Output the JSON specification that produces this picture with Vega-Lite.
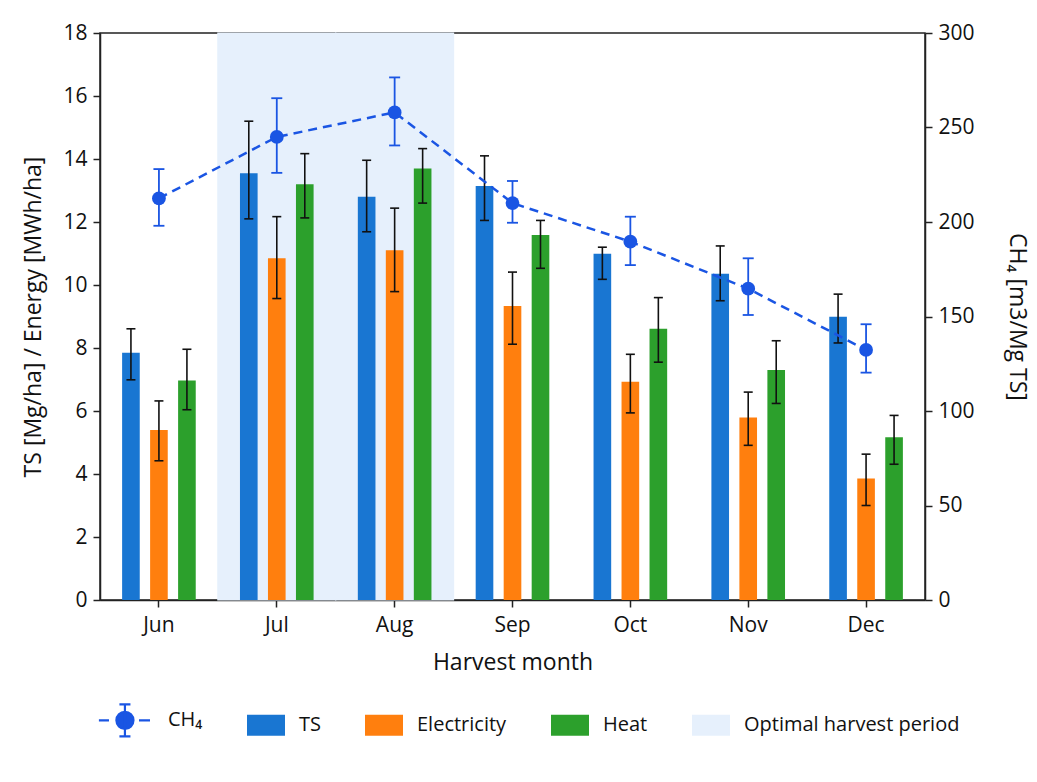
{
  "$schema": "https://vega.github.io/schema/vega-lite/v6.json",
  "width": 825,
  "height": 567,
  "autosize": {"type": "none"},
  "padding": {"left": 100, "top": 33, "right": 112, "bottom": 182},
  "background": "white",
  "config": {
    "font": "Open Sans",
    "view": {"stroke": "#222", "strokeWidth": 1.5},
    "axis": {
      "grid": false,
      "domainColor": "#222",
      "domainWidth": 1.5,
      "tickColor": "#222",
      "tickWidth": 1.5,
      "tickSize": 7,
      "labelFontSize": 21,
      "labelColor": "#111",
      "titleFontSize": 23,
      "titleFontWeight": "normal",
      "titleColor": "#111",
      "labelPadding": 6
    },
    "legend": {
      "orient": "none",
      "legendX": 25,
      "legendY": 677,
      "direction": "horizontal",
      "symbolSize": 1444,
      "labelFontSize": 20,
      "labelColor": "#111",
      "labelOffset": 23,
      "labelLimit": 0,
      "columnPadding": 44,
      "symbolOpacity": 1
    }
  },
  "datasets": {
    "bars": [
      {"month": "Jun", "series": "TS", "value": 7.85, "lo": 6.99, "hi": 8.61},
      {"month": "Jun", "series": "Electricity", "value": 5.4, "lo": 4.42, "hi": 6.32},
      {"month": "Jun", "series": "Heat", "value": 6.97, "lo": 6.04, "hi": 7.96},
      {"month": "Jul", "series": "TS", "value": 13.55, "lo": 12.1, "hi": 15.2},
      {"month": "Jul", "series": "Electricity", "value": 10.85, "lo": 9.57, "hi": 12.17},
      {"month": "Jul", "series": "Heat", "value": 13.2, "lo": 12.13, "hi": 14.17},
      {"month": "Aug", "series": "TS", "value": 12.8, "lo": 11.69, "hi": 13.96},
      {"month": "Aug", "series": "Electricity", "value": 11.1, "lo": 9.79, "hi": 12.44},
      {"month": "Aug", "series": "Heat", "value": 13.7, "lo": 12.6, "hi": 14.33},
      {"month": "Sep", "series": "TS", "value": 13.14, "lo": 12.05, "hi": 14.1},
      {"month": "Sep", "series": "Electricity", "value": 9.33, "lo": 8.12, "hi": 10.41},
      {"month": "Sep", "series": "Heat", "value": 11.59, "lo": 10.53, "hi": 12.05},
      {"month": "Oct", "series": "TS", "value": 10.99, "lo": 10.18, "hi": 11.2},
      {"month": "Oct", "series": "Electricity", "value": 6.93, "lo": 5.94, "hi": 7.8},
      {"month": "Oct", "series": "Heat", "value": 8.61, "lo": 7.55, "hi": 9.6},
      {"month": "Nov", "series": "TS", "value": 10.36, "lo": 9.5, "hi": 11.24},
      {"month": "Nov", "series": "Electricity", "value": 5.79, "lo": 4.91, "hi": 6.6},
      {"month": "Nov", "series": "Heat", "value": 7.3, "lo": 6.24, "hi": 8.23},
      {"month": "Dec", "series": "TS", "value": 8.99, "lo": 8.16, "hi": 9.71},
      {"month": "Dec", "series": "Electricity", "value": 3.86, "lo": 3.0, "hi": 4.63},
      {"month": "Dec", "series": "Heat", "value": 5.17, "lo": 4.31, "hi": 5.86}
    ],
    "ch4": [
      {"month": "Jun", "ch4": 212.5, "lo": 198, "hi": 228},
      {"month": "Jul", "ch4": 245, "lo": 226, "hi": 265.5},
      {"month": "Aug", "ch4": 258, "lo": 240.5, "hi": 276.5},
      {"month": "Sep", "ch4": 210, "lo": 199.6, "hi": 221.7},
      {"month": "Oct", "ch4": 189.6, "lo": 177.2, "hi": 202.8},
      {"month": "Nov", "ch4": 164.7, "lo": 150.8, "hi": 180.8},
      {"month": "Dec", "ch4": 132.3, "lo": 120.3, "hi": 145.9}
    ],
    "shade": [
      {"month": "Jul", "top": 18},
      {"month": "Aug", "top": 18}
    ]
  },
  "layer": [
    {
      "layer": [
        {
          "data": {"name": "shade"},
          "mark": {"type": "bar", "opacity": 1, "stroke": "#e6f0fc", "strokeWidth": 1.2},
          "encoding": {
            "x": {
              "field": "month", "type": "nominal",
              "scale": {"domain": ["Jun", "Jul", "Aug", "Sep", "Oct", "Nov", "Dec"], "paddingInner": 0, "paddingOuter": 0},
              "axis": {"title": "Harvest month", "labelAngle": 0, "titlePadding": 16, "labelPadding": 7}
            },
            "y": {
              "field": "top", "type": "quantitative",
              "scale": {"domain": [0, 18], "nice": false},
              "axis": {"title": "TS [Mg/ha] / Energy [MWh/ha]", "values": [0, 2, 4, 6, 8, 10, 12, 14, 16, 18], "titlePadding": 17}
            },
            "color": {
              "datum": "Optimal harvest period", "type": "nominal",
              "scale": {"domain": ["CH₄", "TS", "Electricity", "Heat", "Optimal harvest period"], "range": ["#1a55e3", "#1976d2", "#ff7f0e", "#2ca02c", "#e6f0fc"]},
              "legend": {
                "title": null,
                "symbolType": {"expr": "datum.value === 'CH₄' ? 'M-1.9,0H-1.37M0.21,0H0.79M-0.53,-0.84V0.84M-0.82,-0.84H-0.24M-0.82,0.84H-0.24M-0.08,0A0.45,0.45,0,1,1,-0.98,0A0.45,0.45,0,1,1,-0.08,0Z' : 'M-1,-0.55H1V0.55H-1Z'"},
                "symbolStrokeWidth": {"expr": "datum.value === 'CH₄' ? 2.2 : 0"},
                "symbolStrokeColor": {"expr": "scale('color', datum.value)"},
                "symbolFillColor": {"expr": "scale('color', datum.value)"}
              }
            }
          }
        },
        {
          "data": {"name": "bars"},
          "mark": {"type": "bar", "opacity": 1},
          "encoding": {
            "x": {"field": "month", "type": "nominal"},
            "xOffset": {
              "field": "series", "type": "nominal",
              "scale": {"domain": ["TS", "Electricity", "Heat"], "paddingInner": 0.37, "paddingOuter": 0.79}
            },
            "y": {"field": "value", "type": "quantitative"},
            "color": {
              "field": "series", "type": "nominal",
              "scale": {"domain": ["CH₄", "TS", "Electricity", "Heat", "Optimal harvest period"], "range": ["#1a55e3", "#1976d2", "#ff7f0e", "#2ca02c", "#e6f0fc"]},
              "legend": {
                "title": null,
                "symbolType": {"expr": "datum.value === 'CH₄' ? 'M-1.9,0H-1.37M0.21,0H0.79M-0.53,-0.84V0.84M-0.82,-0.84H-0.24M-0.82,0.84H-0.24M-0.08,0A0.45,0.45,0,1,1,-0.98,0A0.45,0.45,0,1,1,-0.08,0Z' : 'M-1,-0.55H1V0.55H-1Z'"},
                "symbolStrokeWidth": {"expr": "datum.value === 'CH₄' ? 2.2 : 0"},
                "symbolStrokeColor": {"expr": "scale('color', datum.value)"},
                "symbolFillColor": {"expr": "scale('color', datum.value)"}
              }
            }
          }
        },
        {
          "data": {"name": "bars"},
          "mark": {"type": "rule", "color": "#111", "strokeWidth": 1.6},
          "encoding": {
            "x": {"field": "month", "type": "nominal"},
            "xOffset": {"field": "series", "type": "nominal"},
            "y": {"field": "lo", "type": "quantitative"},
            "y2": {"field": "hi"}
          }
        },
        {
          "data": {"name": "bars"},
          "mark": {"type": "tick", "color": "#111", "thickness": 1.6, "size": 9, "opacity": 1},
          "encoding": {
            "x": {"field": "month", "type": "nominal"},
            "xOffset": {"field": "series", "type": "nominal"},
            "y": {"field": "lo", "type": "quantitative"}
          }
        },
        {
          "data": {"name": "bars"},
          "mark": {"type": "tick", "color": "#111", "thickness": 1.6, "size": 9, "opacity": 1},
          "encoding": {
            "x": {"field": "month", "type": "nominal"},
            "xOffset": {"field": "series", "type": "nominal"},
            "y": {"field": "hi", "type": "quantitative"}
          }
        }
      ]
    },
    {
      "data": {"name": "ch4"},
      "layer": [
        {
          "mark": {"type": "line", "strokeDash": [9, 6], "strokeWidth": 2.5},
          "encoding": {
            "x": {"field": "month", "type": "nominal"},
            "y": {
              "field": "ch4", "type": "quantitative",
              "scale": {"domain": [0, 300], "nice": false},
              "axis": {"orient": "right", "title": "CH₄ [m3/Mg TS]", "values": [0, 50, 100, 150, 200, 250, 300], "titlePadding": 30}
            },
            "color": {"datum": "CH₄", "type": "nominal"}
          }
        },
        {
          "mark": {"type": "rule", "color": "#1a55e3", "strokeWidth": 1.8},
          "encoding": {
            "x": {"field": "month", "type": "nominal"},
            "y": {"field": "lo", "type": "quantitative"},
            "y2": {"field": "hi"}
          }
        },
        {
          "mark": {"type": "tick", "color": "#1a55e3", "thickness": 1.8, "size": 11, "opacity": 1},
          "encoding": {
            "x": {"field": "month", "type": "nominal"},
            "y": {"field": "lo", "type": "quantitative"}
          }
        },
        {
          "mark": {"type": "tick", "color": "#1a55e3", "thickness": 1.8, "size": 11, "opacity": 1},
          "encoding": {
            "x": {"field": "month", "type": "nominal"},
            "y": {"field": "hi", "type": "quantitative"}
          }
        },
        {
          "mark": {"type": "point", "filled": true, "size": 190, "opacity": 1},
          "encoding": {
            "x": {"field": "month", "type": "nominal"},
            "y": {"field": "ch4", "type": "quantitative"},
            "color": {"datum": "CH₄", "type": "nominal"}
          }
        }
      ]
    }
  ],
  "resolve": {"scale": {"y": "independent"}}
}
